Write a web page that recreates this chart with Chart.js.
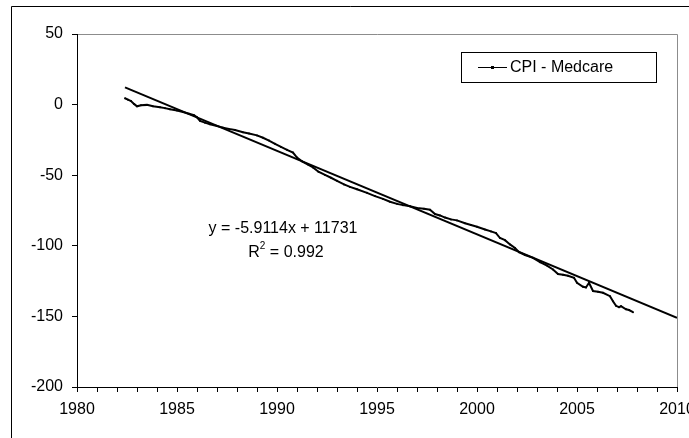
<!DOCTYPE html>
<html>
<head>
<meta charset="utf-8">
<script src="https://cdn.jsdelivr.net/npm/chart.js@4.4.1/dist/chart.umd.min.js"></script>
<style>
  html, body { margin: 0; padding: 0; background: #fff; }
  #wrap { width: 689px; height: 438px; position: relative; }
</style>
</head>
<body>
<div id="wrap"><canvas id="cpiChart"></canvas></div>
<script>
// CPI - Medcare series (year, value)
const years = [
  1982.4, 1982.55, 1982.7, 1982.85, 1983.0, 1983.2, 1983.5, 1983.8, 1984.15, 1984.4,
  1984.65, 1985.0, 1985.3, 1985.6, 1985.85, 1986.0, 1986.15, 1986.4, 1986.65, 1987.0,
  1987.3, 1987.6, 1987.9, 1988.3, 1988.6, 1989.0, 1989.3, 1989.6, 1989.9, 1990.2,
  1990.5, 1990.8, 1991.0, 1991.25, 1991.55, 1991.8, 1992.07, 1992.4, 1992.7, 1993.0,
  1993.35, 1993.65, 1994.0, 1994.5, 1994.9, 1995.3, 1995.65, 1996.0, 1996.3, 1996.65,
  1997.0, 1997.35, 1997.65, 1997.9, 1998.15, 1998.4, 1998.7, 1999.0, 1999.4, 1999.7,
  2000.0, 2000.4, 2000.7, 2000.95, 2001.15, 2001.4, 2001.65, 2001.9, 2002.1, 2002.4,
  2002.8, 2003.15, 2003.5, 2003.8, 2004.05, 2004.3, 2004.55, 2004.85, 2005.0, 2005.3,
  2005.45, 2005.6, 2005.8, 2006.05, 2006.3, 2006.65, 2006.8, 2006.95, 2007.1, 2007.2,
  2007.45, 2007.6, 2007.8
];
const cpi = [
  4.5, 3.5, 2.5, 0.5, -1.2, -0.5, -0.2, -1.2, -1.9, -2.5,
  -3.3, -4.2, -5.2, -6.5, -7.5, -9, -11.5, -12.8, -14, -15.2,
  -16.3, -17.2, -18, -19.6, -20.5, -21.8, -23.5, -25.5, -27.8, -30,
  -32, -34, -37.5, -40.2, -42.5, -44.5, -47.5, -49.8, -51.8, -54,
  -56.5, -58.3, -60, -62.5, -64.8, -66.8, -68.8, -70.3, -71.2, -72,
  -73.2, -73.8, -74.5, -77.5, -78.5, -80, -81.3, -82, -84, -85.3,
  -86.5, -88.5, -89.8, -91, -94.5, -96, -99, -101.5, -104.5, -106.5,
  -108.5, -111.6, -114, -116.8, -120, -120.5, -121.2, -122.7, -126.2, -129,
  -129.5, -126.2, -132, -132.5, -133.3, -135.7, -139.3, -142.5, -143.5, -142.8,
  -145, -145.5, -147
];

// linear trend line ends
const trendYears = [1982.4, 2010];
const trendValues = [12.2, -151.0];

const xLabelYears = [1980, 1985, 1990, 1995, 2000, 2005, 2010];
const seriesName = 'CPI - Medcare';
const equation = 'y = -5.9114x + 11731';
const rSquared = '0.992';

const FONT = '"Liberation Sans", Arial, sans-serif';
Chart.defaults.font.family = FONT;
Chart.defaults.font.size = 16;
Chart.defaults.color = '#000';

// frame, legend box and trend equation (Excel style)
const excelBits = {
  id: 'excelBits',
  beforeDraw(chart) {
    const c = chart.ctx;
    const a = chart.chartArea;
    c.save();
    c.fillStyle = '#fff';
    c.fillRect(0, 0, chart.width, chart.height);
    c.strokeStyle = '#000';
    c.lineWidth = 1;
    c.beginPath();
    c.moveTo(11.5, chart.height);
    c.lineTo(11.5, 6.5);
    c.lineTo(chart.width, 6.5);
    c.stroke();
    c.strokeStyle = '#8c8c8c';
    c.beginPath();
    c.moveTo(a.left, a.top + 0.5);
    c.lineTo(a.right + 0.5, a.top + 0.5);
    c.lineTo(a.right + 0.5, a.bottom);
    c.stroke();
    c.restore();
  },
  afterDraw(chart) {
    const c = chart.ctx;
    c.save();
    // legend
    c.strokeStyle = '#000';
    c.lineWidth = 1;
    c.strokeRect(461.5, 52.5, 195, 30);
    c.beginPath();
    c.moveTo(478, 67.5);
    c.lineTo(507, 67.5);
    c.stroke();
    c.fillStyle = '#000';
    c.fillRect(491, 66, 3, 3);
    c.font = '16px ' + FONT;
    c.textBaseline = 'middle';
    c.textAlign = 'left';
    c.fillText(chart.data.datasets[0].label, 510, 68);

    // equation
    c.textAlign = 'center';
    c.fillText(equation, 283, 229);
    const big = '16px ' + FONT, small = '10px ' + FONT;
    c.font = big;
    const wR = c.measureText('R').width;
    const wRest = c.measureText(' = ' + rSquared).width;
    c.font = small;
    const w2 = c.measureText('2').width;
    let x = 286 - (wR + w2 + wRest) / 2;
    c.textAlign = 'left';
    c.font = big;
    c.fillText('R', x, 253);
    x += wR;
    c.font = small;
    c.fillText('2', x, 246);
    x += w2;
    c.font = big;
    c.fillText(' = ' + rSquared, x, 253);
    c.restore();
  }
};

const ctx = document.getElementById('cpiChart').getContext('2d');

new Chart(ctx, {
  type: 'scatter',
  data: {
    datasets: [
      {
        label: seriesName,
        data: years.map((x, i) => ({ x: x, y: cpi[i] })),
        showLine: true,
        borderColor: '#000',
        borderWidth: 2,
        pointRadius: 1,
        pointBackgroundColor: '#000',
        pointBorderWidth: 0
      },
      {
        label: 'trend',
        data: trendYears.map((x, i) => ({ x: x, y: trendValues[i] })),
        showLine: true,
        borderColor: '#000',
        borderWidth: 2,
        pointRadius: 0
      }
    ]
  },
  options: {
    responsive: true,
    maintainAspectRatio: false,
    animation: false,
    layout: {
      padding: { top: 34, right: 12, bottom: 0, left: 0 }
    },
    scales: {
      x: {
        type: 'linear',
        min: 1980,
        max: 2010,
        grid: { drawOnChartArea: false, drawTicks: true, tickLength: 5, color: '#000' },
        border: { color: '#000', width: 1 },
        ticks: {
          stepSize: 1,
          autoSkip: false,
          maxRotation: 0,
          padding: 8,
          callback: (v) => xLabelYears.includes(v) ? String(v) : ''
        },
        afterFit: (s) => { s.height = 51; s.paddingLeft = 0; s.paddingRight = 0; }
      },
      y: {
        min: -200,
        max: 50,
        grid: { drawOnChartArea: false, drawTicks: true, tickLength: 5, color: '#000' },
        border: { color: '#000', width: 1 },
        ticks: { stepSize: 50, padding: 9 },
        afterFit: (s) => { s.width = 77; }
      }
    },
    plugins: {
      legend: { display: false },
      tooltip: { enabled: false }
    }
  },
  plugins: [excelBits]
});
</script>
</body>
</html>
